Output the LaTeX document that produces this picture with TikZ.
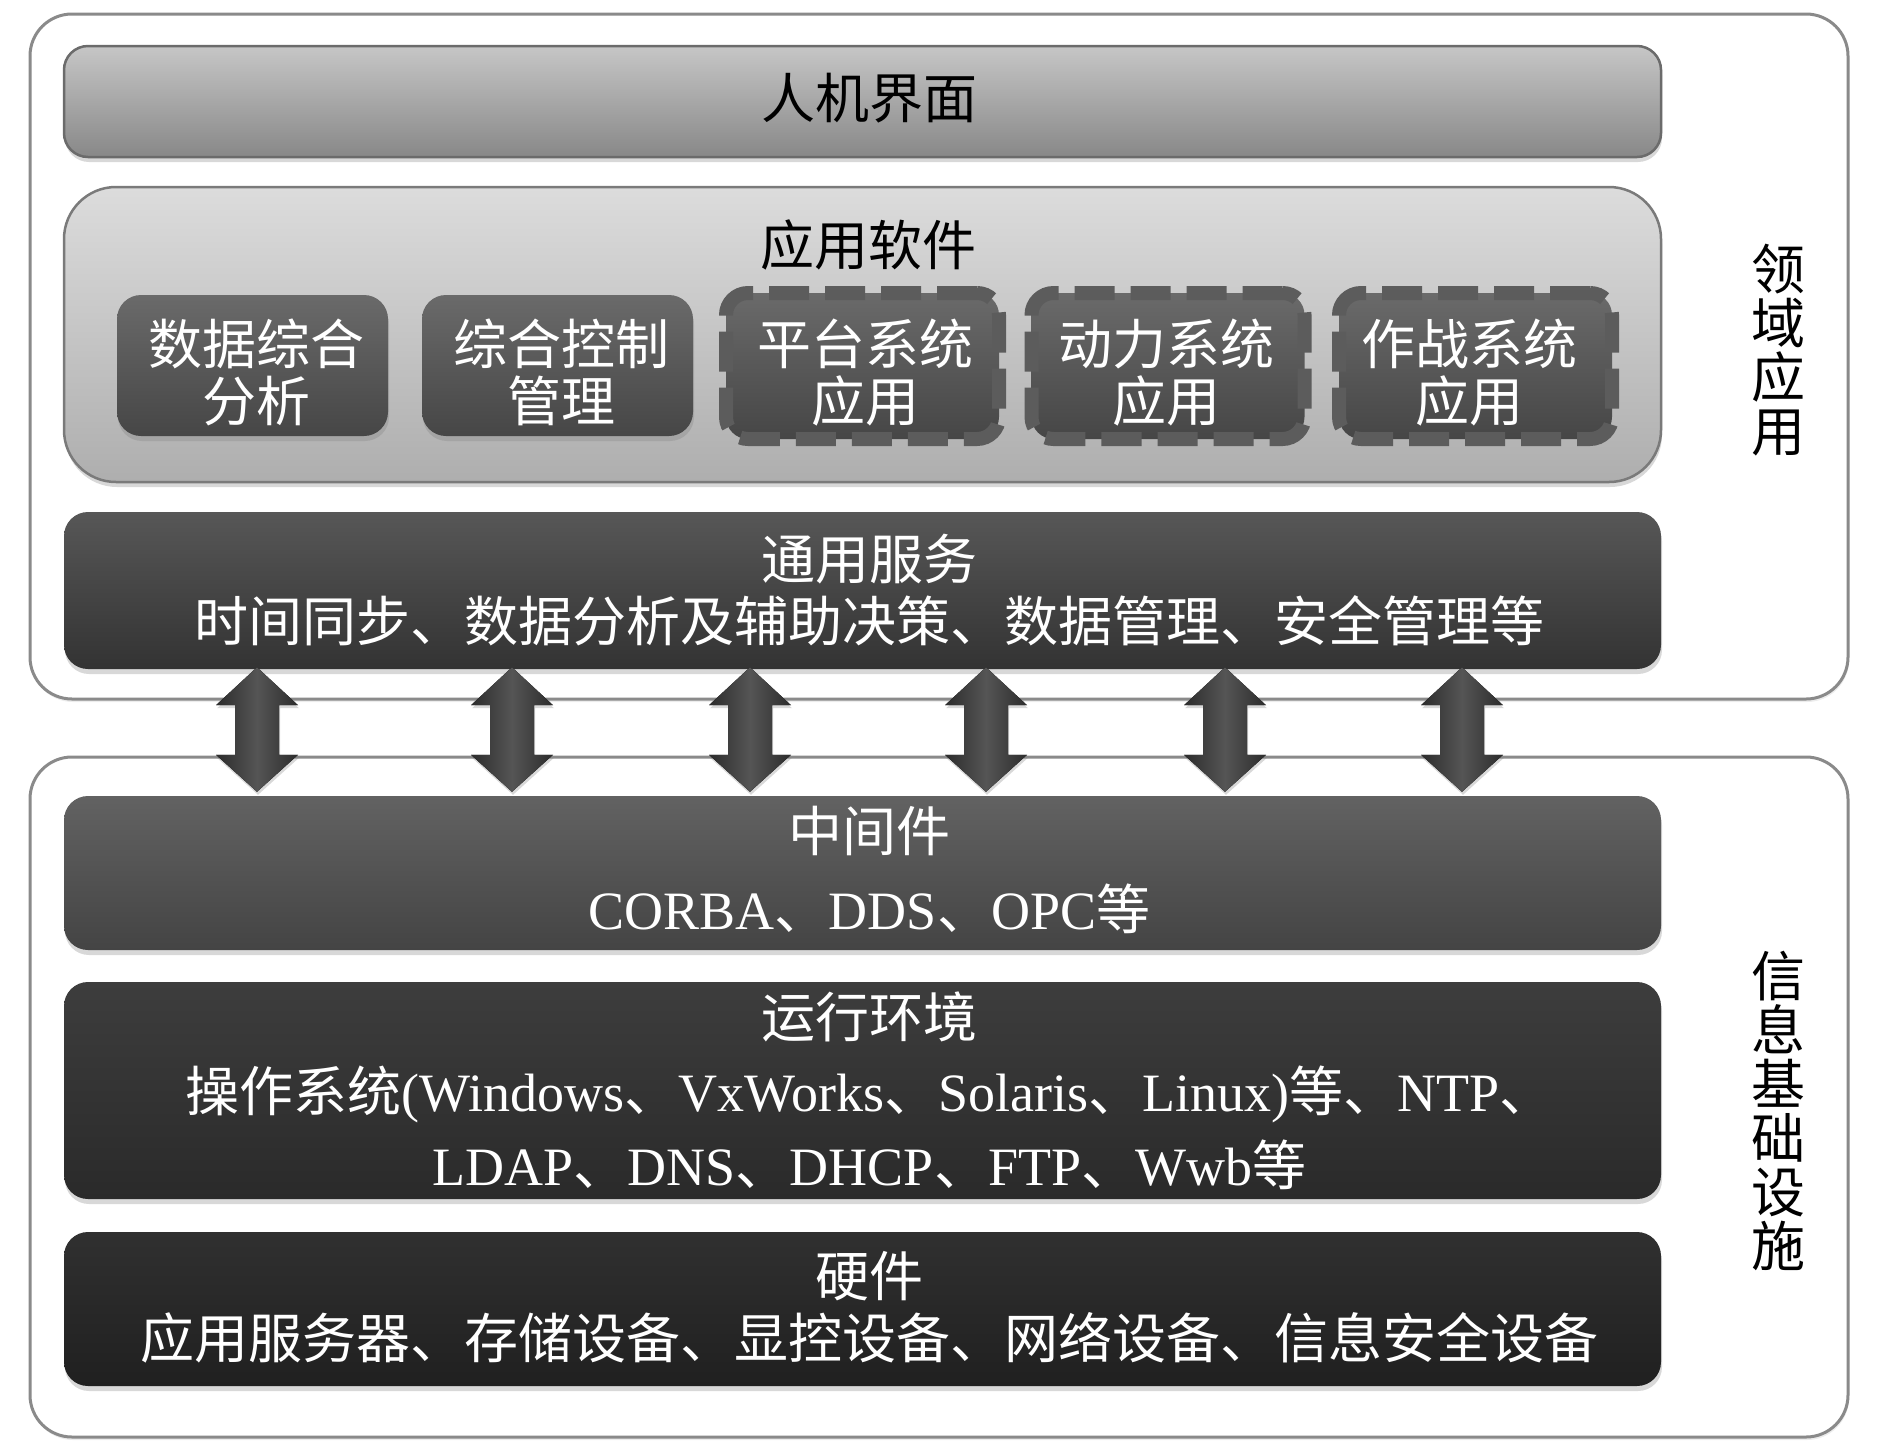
\documentclass[tikz,border=0pt]{standalone}
\usepackage{fontspec}
\setmainfont{Noto Sans CJK SC}
\newfontfamily\lat{Liberation Serif}
\usetikzlibrary{shadows,calc}
\definecolor{frameC}{HTML}{8A8A8A}
\definecolor{hmiTop}{HTML}{C6C6C6}
\definecolor{hmiBot}{HTML}{888888}
\definecolor{appTop}{HTML}{DCDCDC}
\definecolor{appBot}{HTML}{AEAEAE}
\definecolor{subTop}{HTML}{6A6A6A}
\definecolor{subBot}{HTML}{464646}
\definecolor{ringC}{HTML}{5C5C5C}
\definecolor{genTop}{HTML}{575757}
\definecolor{genBot}{HTML}{333333}
\definecolor{midTop}{HTML}{626262}
\definecolor{midBot}{HTML}{444444}
\definecolor{envTop}{HTML}{3D3D3D}
\definecolor{envBot}{HTML}{2A2A2A}
\definecolor{hwTop}{HTML}{303030}
\definecolor{hwBot}{HTML}{202020}
\definecolor{arrEdge}{HTML}{2C2C2C}
\definecolor{arrMid}{HTML}{555555}
\begin{document}
\begin{tikzpicture}[x=1pt,y=-1pt,
  frame/.style={draw=frameC,line width=3pt,fill=white,rounded corners=42pt,inner sep=0pt,
    drop shadow={shadow xshift=1pt,shadow yshift=-3pt,opacity=0.15}},
  txt/.style={font=\fontsize{54}{62}\selectfont,align=center,inner sep=0pt},
  wtxt/.style={txt,text=white},
  bar/.style={rounded corners=24pt,inner sep=0pt,minimum width=1597pt,
    drop shadow={shadow xshift=1pt,shadow yshift=-5pt,opacity=0.3}},
  subbox/.style={rounded corners=24pt,inner sep=0pt,minimum width=271pt,minimum height=141pt,
    top color=subTop,bottom color=subBot,
    drop shadow={shadow xshift=1pt,shadow yshift=-5pt,opacity=0.3}},
  ringbox/.style={rounded corners=22pt,inner sep=0pt,minimum width=273pt,minimum height=146pt,
    top color=subTop,bottom color=subBot,
    draw=ringC,line width=14pt,dash pattern=on 40pt off 16pt},
  subtxt/.style={wtxt,font=\fontsize{54}{57}\selectfont},
  sidelabel/.style={font=\fontsize{54}{54}\selectfont,align=center,text=black},
  arrowfill/.style={left color=arrEdge,right color=arrEdge,middle color=arrMid,
    drop shadow={shadow xshift=1pt,shadow yshift=-3pt,opacity=0.3}}
]
\useasboundingbox (0,0) rectangle (1890,1444);

% outer frames
\node[frame,minimum width=1818pt,minimum height=685pt] (topframe) at (939,356.5) {};
\node[frame,minimum width=1818pt,minimum height=680pt] (botframe) at (939,1097) {};

% human machine interface
\node[bar,top color=hmiTop,bottom color=hmiBot,draw=black!58,line width=2.5pt,
  minimum height=111pt] (hmi) at (862.5,101.5) {};
\node[txt,text=black] (hmit) at ($(hmi.center)+(7,-3)$) {人机界面};

% application software container
\node[bar,rounded corners=52pt,top color=appTop,bottom color=appBot,draw=black!52,line width=2.5pt,
  minimum height=295pt] (app) at (862.5,334.5) {};
\node[txt,text=black] (apptitle) at (868,245) {应用软件};

% sub boxes
\node[subbox] (s1) at (252.5,365.5) {};
\node[subbox] (s2) at (557.5,365.5) {};
\node[ringbox] (s3) at (862.5,366) {};
\node[ringbox] (s4) at (1168,366) {};
\node[ringbox] (s5) at (1475.5,366) {};
\node[subtxt] (s1t) at ($(s1.center)+(4,7)$) {数据综合\\分析};
\node[subtxt] (s2t) at ($(s2.center)+(4,7)$) {综合控制\\管理};
\node[subtxt] (s3t) at ($(s3.center)+(3,7)$) {平台系统\\应用};
\node[subtxt] (s4t) at ($(s4.center)+(-2,7)$) {动力系统\\应用};
\node[subtxt] (s5t) at ($(s5.center)+(-6,7)$) {作战系统\\应用};

% common services
\node[bar,top color=genTop,bottom color=genBot,minimum height=157pt] (gen) at (862.5,590.5) {};
\node[wtxt] (gent) at ($(gen.center)+(7,0)$)
  {通用服务\\时间同步、数据分析及辅助决策、数据管理、安全管理等};

% middleware
\node[bar,top color=midTop,bottom color=midBot,minimum height=154pt] (mid) at (862.5,873) {};
\node[wtxt,font=\fontsize{54}{78}\selectfont] (midt) at ($(mid.center)+(7,-3)$)
  {中间件\\{\lat CORBA}、{\lat DDS}、{\lat OPC}等};

% runtime environment
\node[bar,top color=envTop,bottom color=envBot,minimum height=217pt] (env) at (862.5,1090.5) {};
\node[wtxt,font=\fontsize{54}{74}\selectfont] (envt) at ($(env.center)+(7,0)$)
  {运行环境\\操作系统{\lat (Windows}、{\lat VxWorks}、{\lat Solaris}、{\lat Linux)}等、{\lat NTP}、\\
   {\lat LDAP}、{\lat DNS}、{\lat DHCP}、{\lat FTP}、{\lat Wwb}等};

% hardware
\node[bar,top color=hwTop,bottom color=hwBot,minimum height=154pt] (hw) at (862.5,1309) {};
\node[wtxt] (hwt) at ($(hw.center)+(7,-2)$)
  {硬件\\应用服务器、存储设备、显控设备、网络设备、信息安全设备};

% side labels
\node[sidelabel] (lab1) at (1778,350) {领\\域\\应\\用};
\node[sidelabel] (lab2) at (1778,1111) {信\\息\\基\\础\\设\\施};

% double arrows between common services and middleware
\foreach \ax in {257,512,750,986,1225,1462}{
  \path (\ax,0) coordinate (ac);
  \path ($(ac |- gen.south)+(0,-2)$) coordinate (at);
  \path ($(ac |- mid.north)+(0,-4)$) coordinate (ab);
  \fill[arrowfill] (at) -- ($(at)+(41,38)$) -- ($(at)+(22,38)$) -- ($(ab)+(22,-37)$)
    -- ($(ab)+(41,-37)$) -- (ab) -- ($(ab)+(-41,-37)$) -- ($(ab)+(-22,-37)$)
    -- ($(at)+(-22,38)$) -- ($(at)+(-41,38)$) -- cycle;
}
\end{tikzpicture}
\end{document}
